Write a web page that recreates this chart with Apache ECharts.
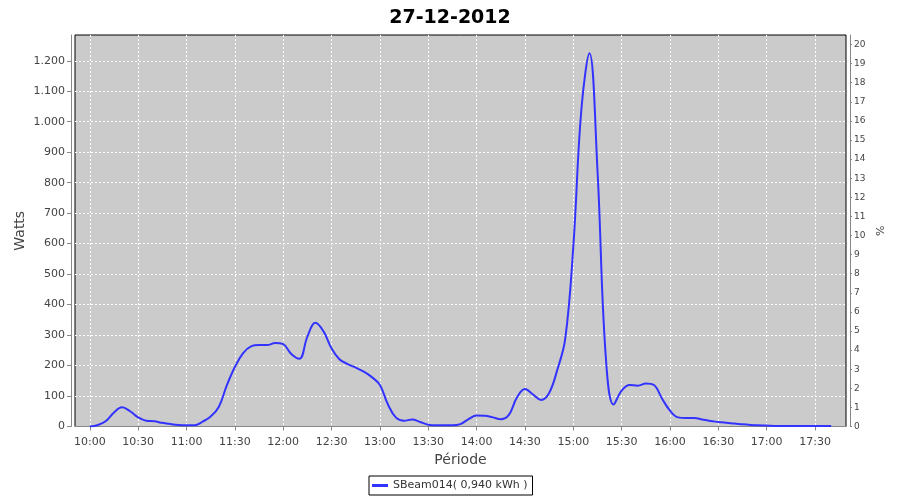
<!DOCTYPE html>
<html><head><meta charset="utf-8">
<script src="https://cdn.jsdelivr.net/npm/echarts@6/dist/echarts.min.js"></script>
<style>html,body{margin:0;padding:0;background:#fff}#c{width:900px;height:500px}</style>
</head><body><div id="c"></div>
<script>
const chartTitle = '27-12-2012';
const seriesName = 'SBeam014( 0,940 kWh )';
const xAxisName = 'Période';
const leftAxisName = 'Watts';
const rightAxisName = '%';

const times = [
 '10:00','10:05','10:10','10:15','10:20','10:25','10:30','10:35','10:40','10:45','10:50','10:55',
 '11:00','11:05','11:10','11:15','11:20','11:25','11:30','11:35','11:40','11:45','11:50','11:55',
 '12:00','12:05','12:10','12:15','12:20','12:25','12:30','12:35','12:40','12:45','12:50','12:55',
 '13:00','13:05','13:10','13:15','13:20','13:25','13:30','13:35','13:40','13:45','13:50','13:55',
 '14:00','14:05','14:10','14:15','14:20','14:25','14:30','14:35','14:40','14:45','14:50','14:55',
 '15:00','15:05','15:10','15:15','15:20','15:25','15:30','15:35','15:40','15:45','15:50','15:55',
 '16:00','16:05','16:10','16:15','16:20','16:25','16:30','16:35','16:40','16:45','16:50','16:55',
 '17:00','17:05','17:10','17:15','17:20','17:25','17:30','17:35','17:40'
];
const watts = [
 0,5,18,46,63,50,30,19,17,12,8,5,
 4,4,16,33,64,135,195,240,263,267,267,274,
 270,238,222,295,340,312,256,220,205,193,180,162,
 136,72,29,19,23,15,6,4,4,4,8,24,
 36,35,30,24,38,95,123,105,87,110,185,288,
 590,1040,1225,840,240,72,118,136,134,141,136,92,
 52,30,28,28,23,18,15,12,10,7,5,4,
 3,2,2,2,2,2,2,2,2
];
const xTickLabels = ['10:00','10:30','11:00','11:30','12:00','12:30','13:00','13:30','14:00','14:30','15:00','15:30','16:00','16:30','17:00','17:30'];
const wattTicks = [0,100,200,300,400,500,600,700,800,900,1000,1100,1200];
const pctTicks = [0,1,2,3,4,5,6,7,8,9,10,11,12,13,14,15,16,17,18,19,20];

function toMin(s){ const p = s.split(':'); return (+p[0]) * 60 + (+p[1]); }
const xTickValues = xTickLabels.map(toMin);
const seriesData = times.map((t, i) => [toMin(t), watts[i]]);
function fmtWatts(v){
  if (v >= 1000) return Math.floor(v / 1000) + '.' + String(v % 1000).padStart(3, '0');
  return String(v);
}
function fmtTime(v){
  const h = Math.floor(v / 60), m = Math.round(v - h * 60);
  return String(h).padStart(2, '0') + ':' + String(m).padStart(2, '0');
}

const FONT = 'DejaVu Sans';
const chart = echarts.init(document.getElementById('c'), null, {renderer: 'canvas'});
chart.setOption({
  animation: false,
  backgroundColor: '#ffffff',
  title: {
    text: chartTitle, left: 'center', top: 4,
    textStyle: {fontFamily: FONT, fontWeight: 'bold', fontSize: 19, color: '#000'}
  },
  legend: {
    left: 369, top: 476,
    padding: [4, 5, 4, 3],
    borderColor: '#000', borderWidth: 1, borderRadius: 0,
    backgroundColor: '#fff',
    icon: 'rect', itemWidth: 16, itemHeight: 3,
    textStyle: {fontFamily: FONT, fontSize: 11, color: '#333'},
    data: [seriesName]
  },
  grid: {
    left: 75, right: 54, top: 35, bottom: 73.5,
    containLabel: false, outerBoundsMode: 'none',
    show: true, backgroundColor: '#cbcbcb', borderColor: '#000', borderWidth: 1
  },
  xAxis: {
    type: 'value', min: 590.8, max: 1069.2, position: 'bottom', offset: 4,
    name: xAxisName, nameLocation: 'middle', nameGap: 23, nameMoveOverlap: false,
    nameTextStyle: {fontFamily: FONT, fontSize: 14, color: '#444'},
    axisLine: {show: true, lineStyle: {color: '#888', width: 1}},
    axisTick: {show: true, length: 4, customValues: xTickValues, lineStyle: {color: '#888'}},
    axisLabel: {customValues: xTickValues, formatter: fmtTime, margin: 6,
      fontFamily: FONT, fontSize: 11, color: '#444'},
    splitLine: {show: true, lineStyle: {color: '#fff', type: [2, 2], width: 1}}
  },
  yAxis: [
    {
      type: 'value', min: 0, max: 1284.5, position: 'left', offset: 4,
      name: leftAxisName, nameLocation: 'middle', nameGap: 44, nameRotate: 90, nameMoveOverlap: false,
      nameTextStyle: {fontFamily: FONT, fontSize: 14, color: '#444'},
      axisLine: {show: true, lineStyle: {color: '#888', width: 1}},
      axisTick: {show: true, length: 4, customValues: wattTicks, lineStyle: {color: '#888'}},
      axisLabel: {customValues: wattTicks, formatter: fmtWatts, margin: 6,
        fontFamily: FONT, fontSize: 11, color: '#444'},
      splitLine: {show: true, lineStyle: {color: '#fff', type: [2, 2], width: 1}}
    },
    {
      type: 'value', min: 0, max: 20.5, position: 'right', offset: 4,
      name: rightAxisName, nameLocation: 'middle', nameGap: 26, nameRotate: 90, nameMoveOverlap: false,
      nameTextStyle: {fontFamily: FONT, fontSize: 11, color: '#444'},
      axisLine: {show: true, lineStyle: {color: '#888', width: 1}},
      axisTick: {show: true, length: 2, customValues: pctTicks, lineStyle: {color: '#888'}},
      axisLabel: {customValues: pctTicks, margin: 4,
        fontFamily: FONT, fontSize: 9, color: '#444'},
      splitLine: {show: false}
    }
  ],
  series: [{
    name: seriesName, type: 'line', xAxisIndex: 0, yAxisIndex: 0,
    data: seriesData, showSymbol: false, symbol: 'none',
    smooth: 0.4,
    lineStyle: {color: '#3333ff', width: 2},
    itemStyle: {color: '#3333ff'}
  }]
});
</script>
</body></html>
